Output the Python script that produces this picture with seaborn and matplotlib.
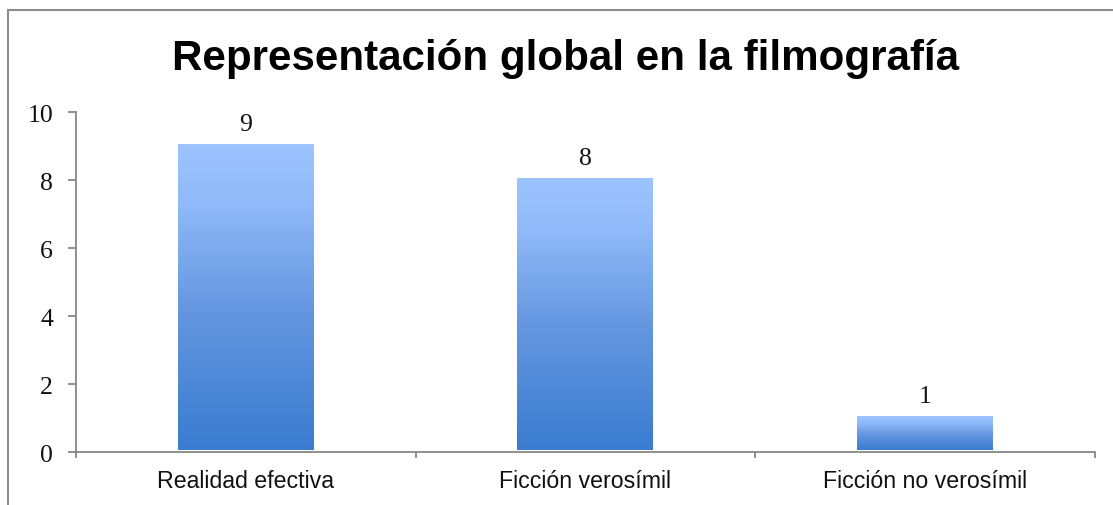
import numpy as np
import pandas as pd
import matplotlib
matplotlib.use("Agg")
import matplotlib.pyplot as plt
from matplotlib.colors import LinearSegmentedColormap
from matplotlib.patches import Rectangle
from matplotlib.transforms import ScaledTranslation
import seaborn as sns

categories = ["Realidad efectiva", "Ficción verosímil", "Ficción no verosímil"]
values = [9, 8, 1]
y_ticks = [0, 2, 4, 6, 8, 10]
title = "Representación global en la filmografía"

sns.set_theme(style="white")
plt.rcParams["font.family"] = ["Liberation Sans", "DejaVu Sans"]

df = pd.DataFrame({"categoria": categories, "valor": values})

fig = plt.figure(figsize=(11.13, 5.06), dpi=100)
ax = fig.add_axes([76 / 1113, 1 - 453.3 / 506, (1094.7 - 76) / 1113, (453.3 - 113.3) / 506])

sns.barplot(data=df, x="categoria", y="valor", ax=ax, width=0.40,
            color="#6f9fe6", saturation=1, edgecolor="none")

# bars sit slightly above the category axis line
lift = ScaledTranslation(0, 2.6 / 100, fig.dpi_scale_trans)

# vertical gradient fill clipped to each bar
grad_cmap = LinearSegmentedColormap.from_list(
    "barfill", [(0.0, "#3a7ccf"), (0.45, "#6496e0"), (0.8, "#8fb9f8"), (1.0, "#9dc4ff")])
grad = np.linspace(0, 1, 256).reshape(-1, 1)
for patch in list(ax.patches):
    patch.set_transform(ax.transData + lift)
    x0, y0 = patch.get_x(), patch.get_y()
    w, h = patch.get_width(), patch.get_height()
    im = ax.imshow(grad, cmap=grad_cmap, origin="lower", aspect="auto",
                   extent=[x0, x0 + w, y0, y0 + h], zorder=patch.get_zorder() + 0.1)
    im.set_transform(ax.transData + lift)
    im.set_clip_path(patch)

ax.set_xlim(-0.5, len(categories) - 0.5)
ax.set_ylim(0, 10)
ax.set_yticks(y_ticks)
ax.set_yticklabels([str(t) for t in y_ticks], fontfamily="Liberation Serif", fontsize=18.5)
ax.set_xlabel("")
ax.set_ylabel("")
ax.tick_params(axis="x", which="major", length=0, pad=12, labelsize=16.7, labelcolor="#111111")
ax.tick_params(axis="y", which="major", length=5.5, width=1.3, color="#868686", pad=11,
               labelcolor="#111111", left=True)
ax.set_xticks(np.arange(-0.5, len(categories), 1.0), minor=True)
ax.tick_params(axis="x", which="minor", length=4, width=1.3, color="#868686", bottom=True)

for side in ["top", "right"]:
    ax.spines[side].set_visible(False)
for side in ["left", "bottom"]:
    ax.spines[side].set_color("#868686")
    ax.spines[side].set_linewidth(1.3)

for i, v in enumerate(values):
    ax.annotate(str(v), xy=(i, v), xytext=(0, 16), textcoords="offset pixels",
                ha="center", va="baseline", fontfamily="Liberation Serif",
                fontsize=18.5, color="#111111")

fig.text(565 / 1113, 1 - 70 / 506, title, ha="center", va="baseline",
         fontsize=30.3, fontweight="bold", color="black")

# chart area frame
fig.add_artist(Rectangle((7.5 / 1113, -0.05), 1.2, 1 - 10.5 / 506 + 0.05,
                         transform=fig.transFigure, fill=False,
                         edgecolor="#8c8c8c", linewidth=1.5))

fig.savefig("out.png", dpi=100, facecolor="white")
